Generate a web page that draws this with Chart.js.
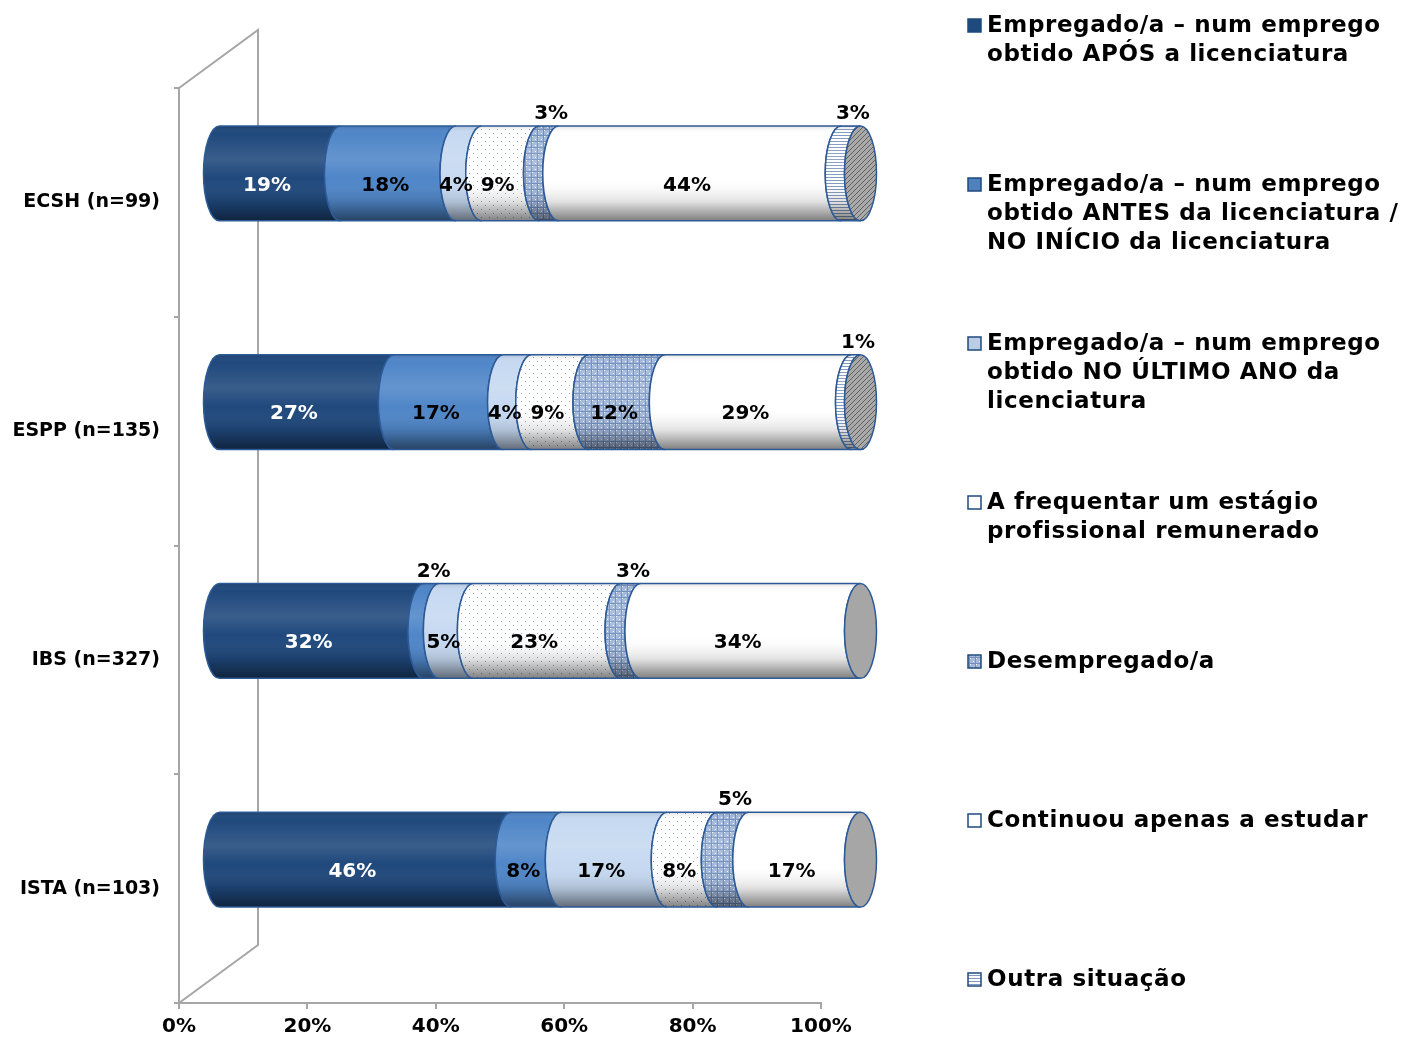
<!DOCTYPE html>
<html>
<head>
<meta charset="utf-8">
<script src="https://cdn.jsdelivr.net/npm/chart.js@4.4.1/dist/chart.umd.min.js"></script>
<style>
  html, body { margin: 0; padding: 0; background: #fff; }
  #wrap { width: 1402px; height: 1037px; }
</style>
</head>
<body>
<div id="wrap"><canvas id="chart" width="1402" height="1037"></canvas></div>
<script>
// Categories (y axis) and tick labels (x axis)
const categories = ["ECSH (n=99)", "ESPP (n=135)", "IBS (n=327)", "ISTA (n=103)"];
const tickLabels = ["0%", "20%", "40%", "60%", "80%", "100%"];

// Series values, in % of each school
const apos         = [19, 27.4, 32.0, 45.6];
const antes        = [18, 17.0, 2.4, 7.8];
const ultimoAno    = [4, 4.4, 5.3, 16.5];
const estagio      = [9, 8.9, 23.0, 7.8];
const desempregado = [3, 11.9, 3.1, 4.9];
const estudar      = [44, 29.0, 34.2, 17.4];
const outra        = [3, 1.4, 0, 0];

// Legend text, one entry per series (lines as shown)
const legendLines = [
    ["Empregado/a – num emprego", "obtido APÓS a licenciatura"],
    ["Empregado/a – num emprego", "obtido ANTES da licenciatura /", "NO INÍCIO da licenciatura"],
    ["Empregado/a – num emprego", "obtido NO ÚLTIMO ANO da", "licenciatura"],
    ["A frequentar um estágio", "profissional remunerado"],
    ["Desempregado/a"],
    ["Continuou apenas a estudar"],
    ["Outra situação"]
];
const seriesValues = [apos, antes, ultimoAno, estagio, desempregado, estudar, outra];

const FONT = "'DejaVu Sans', Verdana, sans-serif";
const AXIS_COLOR = "#A6A6A6";
const EDGE_COLOR = "#2D5A96";
const DEPTH = { x: 79, y: -58 };
const SHIFT = { x: DEPTH.x / 2, y: DEPTH.y / 2 };
const RX = 16;

function makePattern(w, h, paint) {
    const c = document.createElement("canvas");
    c.width = w; c.height = h;
    const g = c.getContext("2d");
    paint(g);
    return document.getElementById("chart").getContext("2d").createPattern(c, "repeat");
}

const dotted = makePattern(8, 8, g => {
    g.fillStyle = "#fff"; g.fillRect(0, 0, 8, 8);
    g.fillStyle = "#8CA3C9";
    g.fillRect(1, 1, 1, 1); g.fillRect(5, 5, 1, 1);
});
const weave = makePattern(6, 6, g => {
    g.fillStyle = "#A5BADB"; g.fillRect(0, 0, 6, 6);
    g.fillStyle = "#7390BF";
    g.fillRect(0, 3, 6, 1); g.fillRect(3, 0, 1, 6);
    g.fillStyle = "#fff";
    g.fillRect(1, 1, 1, 1); g.fillRect(4, 4, 1, 1);
});
const stripes = makePattern(4, 3, g => {
    g.fillStyle = "#fff"; g.fillRect(0, 0, 4, 3);
    g.fillStyle = "#8199C0"; g.fillRect(0, 0, 4, 1);
});
const hatch = makePattern(5, 5, g => {
    g.fillStyle = "#A9A9A9"; g.fillRect(0, 0, 5, 5);
    g.strokeStyle = "#606060"; g.lineWidth = 1;
    g.beginPath(); g.moveTo(0, 5); g.lineTo(5, 0); g.stroke();
});

const seriesFills = ["#1F487C", "#4F86C8", "#C6D9F1", dotted, weave, "#ffffff", stripes];
const legendFills = ["#1F4A7E", "#4F81BD", "#B9CDE5", "#ffffff", weave, "#ffffff", stripes];
const labelColors = ["#ffffff", "#000", "#000", "#000", "#000", "#000", "#000"];

function segmentPath(ctx, xa, xb, top, bot) {
    const cy = (top + bot) / 2, ry = (bot - top) / 2;
    ctx.beginPath();
    ctx.moveTo(xa, top);
    ctx.lineTo(xb, top);
    ctx.ellipse(xb, cy, RX, ry, 0, -Math.PI / 2, Math.PI / 2, true);
    ctx.lineTo(xa, bot);
    ctx.ellipse(xa, cy, RX, ry, 0, Math.PI / 2, -Math.PI / 2, false);
    ctx.closePath();
}

function shading(ctx, top, bot) {
    const gr = ctx.createLinearGradient(0, top, 0, bot);
    gr.addColorStop(0, "rgba(0,0,0,0.12)");
    gr.addColorStop(0.08, "rgba(255,255,255,0)");
    gr.addColorStop(0.35, "rgba(255,255,255,0.12)");
    gr.addColorStop(0.55, "rgba(255,255,255,0)");
    gr.addColorStop(0.8, "rgba(0,0,0,0.12)");
    gr.addColorStop(1, "rgba(0,0,0,0.5)");
    return gr;
}

const cylinderPlugin = {
    id: "cylinders",
    beforeDatasetsDraw(chart) {
        const ctx = chart.ctx;
        const area = chart.chartArea;

        // back wall / floor edges of the 3D box
        ctx.save();
        ctx.strokeStyle = AXIS_COLOR;
        ctx.lineWidth = 2;
        ctx.beginPath();
        ctx.moveTo(area.left, area.top);
        ctx.lineTo(area.left + DEPTH.x, area.top + DEPTH.y);
        ctx.lineTo(area.left + DEPTH.x, area.bottom + DEPTH.y);
        ctx.lineTo(area.left, area.bottom);
        ctx.stroke();
        ctx.restore();

        const texts = [];
        chart.data.labels.forEach((cat, i) => {
            let last = null;
            chart.data.datasets.forEach((ds, d) => {
                const v = ds.data[i];
                if (!v) return;
                const p = chart.getDatasetMeta(d).data[i].getProps(["x", "y", "base", "height"], true);
                const xa = Math.min(p.base, p.x) + SHIFT.x;
                const xb = Math.max(p.base, p.x) + SHIFT.x;
                const top = p.y - p.height / 2 + SHIFT.y;
                const bot = top + p.height;

                ctx.save();
                segmentPath(ctx, xa, xb, top, bot);
                ctx.fillStyle = seriesFills[d];
                ctx.fill();
                ctx.fillStyle = shading(ctx, top, bot);
                ctx.fill();
                ctx.strokeStyle = EDGE_COLOR;
                ctx.lineWidth = 1.5;
                ctx.stroke();
                ctx.restore();

                last = { d, xb, top, bot };
                const above = v < 3.5 || (d === 4 && v < 6);
                const cx = (xa + xb) / 2;
                texts.push({
                    text: Math.round(v) + "%",
                    x: above ? cx + 2 : cx - 13,
                    y: above ? top - 12 : (top + bot) / 2 + 12,
                    color: above ? "#000" : labelColors[d]
                });
            });
            if (last) {
                const cy = (last.top + last.bot) / 2, ry = (last.bot - last.top) / 2;
                ctx.save();
                ctx.beginPath();
                ctx.ellipse(last.xb, cy, RX, ry, 0, 0, Math.PI * 2);
                ctx.fillStyle = last.d === 6 ? hatch : "#A6A6A6";
                ctx.fill();
                ctx.strokeStyle = EDGE_COLOR;
                ctx.lineWidth = 1.5;
                ctx.stroke();
                ctx.restore();
            }
        });

        ctx.save();
        ctx.font = "bold 20px " + FONT;
        ctx.textAlign = "center";
        ctx.textBaseline = "middle";
        texts.forEach(t => {
            ctx.fillStyle = t.color;
            ctx.fillText(t.text, t.x, t.y);
        });
        ctx.restore();
        return false;
    }
};

const legendPlugin = {
    id: "sideLegend",
    afterDraw(chart) {
        const ctx = chart.ctx;
        ctx.save();
        ctx.font = "bold 23px " + FONT;
        ctx.textBaseline = "middle";
        ctx.textAlign = "left";
        if ("letterSpacing" in ctx) ctx.letterSpacing = "0.6px";
        legendLines.forEach((lines, i) => {
            const y0 = 26 + i * 159;
            ctx.fillStyle = legendFills[i];
            ctx.fillRect(968, y0 - 7, 13, 13);
            ctx.strokeStyle = "#1F497D";
            ctx.lineWidth = 1.5;
            ctx.strokeRect(968, y0 - 7, 13, 13);
            ctx.fillStyle = "#000";
            lines.forEach((line, k) => ctx.fillText(line, 987, y0 + k * 29));
        });
        ctx.restore();
    }
};

const ctx = document.getElementById("chart").getContext("2d");
new Chart(ctx, {
    type: "bar",
    data: {
        labels: categories,
        datasets: seriesValues.map((vals, d) => ({
            label: legendLines[d].join(" "),
            data: vals,
            backgroundColor: typeof seriesFills[d] === "string" ? seriesFills[d] : "#ccc"
        }))
    },
    options: {
        indexAxis: "y",
        responsive: false,
        animation: false,
        layout: { padding: { top: 88, right: 581, bottom: 0, left: 0 } },
        datasets: { bar: { categoryPercentage: 1, barPercentage: 0.415 } },
        plugins: { legend: { display: false }, tooltip: { enabled: false } },
        scales: {
            x: {
                stacked: true,
                min: 0,
                max: 100,
                ticks: {
                    stepSize: 20,
                    padding: 6,
                    color: "#000",
                    font: { family: FONT, size: 20, weight: "bold" },
                    callback: v => tickLabels[v / 20]
                },
                grid: { drawOnChartArea: false, tickLength: 6, color: AXIS_COLOR, lineWidth: 2 },
                border: { color: AXIS_COLOR, width: 2 },
                afterFit: s => { s.height = 34; }
            },
            y: {
                stacked: true,
                ticks: {
                    padding: 14,
                    color: "#000",
                    font: { family: FONT, size: 19, weight: "bold" }
                },
                grid: { offset: true, drawOnChartArea: false, tickLength: 5, color: AXIS_COLOR, lineWidth: 2 },
                border: { color: AXIS_COLOR, width: 2 },
                afterFit: s => { s.width = 179; }
            }
        }
    },
    plugins: [cylinderPlugin, legendPlugin]
});
</script>
</body>
</html>
